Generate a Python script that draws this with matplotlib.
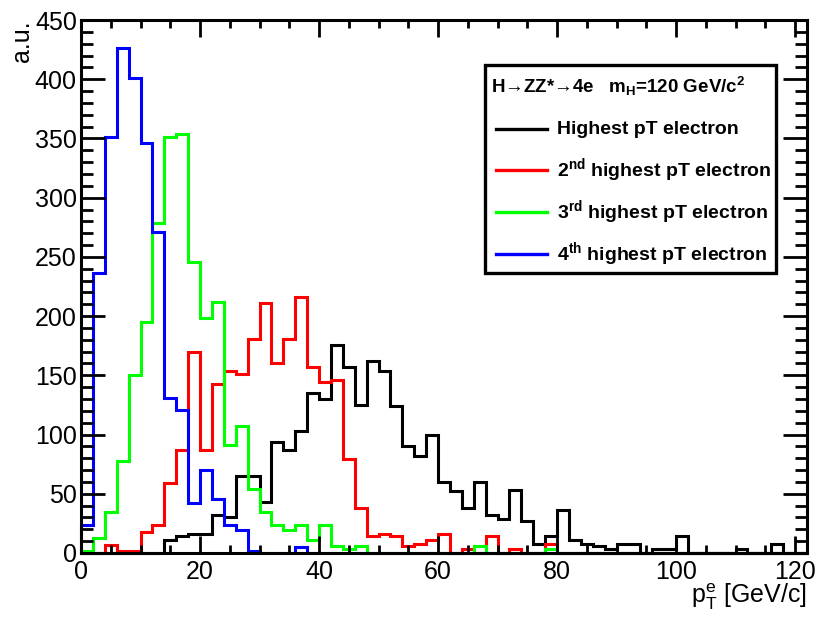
import numpy as np
import matplotlib
matplotlib.use("Agg")
import matplotlib.pyplot as plt
from matplotlib.lines import Line2D
from matplotlib.patches import Rectangle

plt.rcParams['font.family'] = ['Liberation Sans', 'DejaVu Sans']
plt.rcParams['mathtext.fontset'] = 'custom'
plt.rcParams['mathtext.rm'] = 'Liberation Sans'
plt.rcParams['mathtext.it'] = 'Liberation Sans:italic'
plt.rcParams['mathtext.bf'] = 'Liberation Sans:bold'

# 2 GeV bins, histogram range 0-122 GeV/c
bin_edges = np.arange(0, 124, 2)

# counts per bin
pt_1st = [0, 0, 0, 0, 0, 0, 0, 11, 14, 16,
          16, 32, 30, 65, 65, 43, 94, 87, 103, 135,
          130, 176, 157, 125, 162, 154, 124, 90, 82, 100,
          60, 52, 38, 60, 32, 29, 53, 27, 8, 14,
          36, 11, 8, 6, 3, 8, 8, 0, 3, 3,
          14, 0, 0, 0, 0, 3, 0, 0, 8, 0,
          0]
pt_2nd = [0, 0, 7, 2, 2, 18, 24, 59, 87, 170,
          87, 143, 154, 151, 181, 211, 160, 181, 216, 157,
          144, 146, 79, 38, 14, 16, 14, 6, 8, 11,
          16, 0, 3, 0, 14, 0, 3, 0, 0, 8,
          0, 0, 0, 0, 0, 0, 0, 0, 0, 0,
          0, 0, 0, 0, 0, 0, 0, 0, 0, 0,
          0]
pt_3rd = [2, 13, 35, 78, 150, 195, 279, 351, 354, 246,
          198, 212, 91, 107, 54, 35, 24, 19, 24, 11,
          24, 6, 3, 6, 0, 0, 0, 0, 0, 0,
          0, 0, 0, 6, 0, 0, 0, 0, 0, 3,
          0, 0, 0, 0, 0, 0, 0, 0, 0, 0,
          0, 0, 0, 0, 0, 0, 0, 0, 0, 0,
          0]
pt_4th = [24, 236, 351, 426, 401, 346, 271, 131, 121, 42,
          70, 46, 24, 19, 2, 0, 0, 0, 5, 0,
          0, 0, 0, 0, 0, 0, 0, 0, 0, 0,
          0, 0, 0, 0, 0, 0, 0, 0, 0, 0,
          0, 0, 0, 0, 0, 0, 0, 0, 0, 0,
          0, 0, 0, 0, 0, 0, 0, 0, 0, 0,
          0]

series = [pt_1st, pt_2nd, pt_3rd, pt_4th]
colors = ["black", "#ff0000", "#00ff00", "#0000ff"]
labels = ["Highest pT electron",
          r"2$^{\mathbf{nd}}$ highest pT electron",
          r"3$^{\mathbf{rd}}$ highest pT electron",
          r"4$^{\mathbf{th}}$ highest pT electron"]
header = r"H→ZZ*→4e   m$_{\mathbf{H}}$=120 GeV/c$^{\mathbf{2}}$"

W, H = 815, 617


def fx(px):
    return px / W


def fy(py):
    return 1 - py / H


fig = plt.figure(figsize=(W / 100, H / 100), dpi=100)
ax = fig.add_axes([fx(81), fy(553), fx(807) - fx(81), fy(20) - fy(553)])

for vals, c in zip(series, colors):
    ax.stairs(vals, bin_edges, color=c, lw=2.2, clip_on=False)

ax.set_xlim(0, 122)
ax.set_ylim(0, 450)
ax.set_xticks(np.arange(0, 121, 20))
ax.set_xticks(np.arange(0, 121, 5), minor=True)
ax.set_yticks(np.arange(0, 451, 50))
ax.set_yticks(np.arange(0, 451, 10), minor=True)
ax.tick_params(which='both', direction='in', top=True, right=True, width=2, labelsize=18)
ax.tick_params(axis='x', which='major', length=12, pad=5)
ax.tick_params(axis='x', which='minor', length=6)
ax.tick_params(axis='y', which='major', length=17, pad=3)
ax.tick_params(axis='y', which='minor', length=8.5)
for s in ax.spines.values():
    s.set_linewidth(2.2)

fig.text(fx(22), fy(20), "a.u.", rotation=90, ha='center', va='top', fontsize=18)
fig.text(fx(807), fy(597), r"p$_\mathrm{T}^\mathrm{e}$ [GeV/c]", ha='right', va='center', fontsize=18)

# legend box drawn by hand, ROOT style
fig.add_artist(Rectangle((fx(485), fy(273)), fx(776) - fx(485), fy(65) - fy(273),
                         transform=fig.transFigure, facecolor='white', edgecolor='black',
                         lw=2.4, zorder=5))
fig.text(fx(491), fy(86), header, ha='left', va='center', fontsize=13.5, fontweight='bold', zorder=6)
for row_y, c, lab in zip([129, 170, 212, 254], colors, labels):
    fig.add_artist(Line2D([fx(496), fx(547)], [fy(row_y), fy(row_y)],
                          transform=fig.transFigure, color=c, lw=2.4, zorder=6))
    fig.text(fx(557), fy(row_y), lab, ha='left', va='center', fontsize=14,
             fontweight='bold', zorder=6)

fig.savefig("out.png", dpi=100)
